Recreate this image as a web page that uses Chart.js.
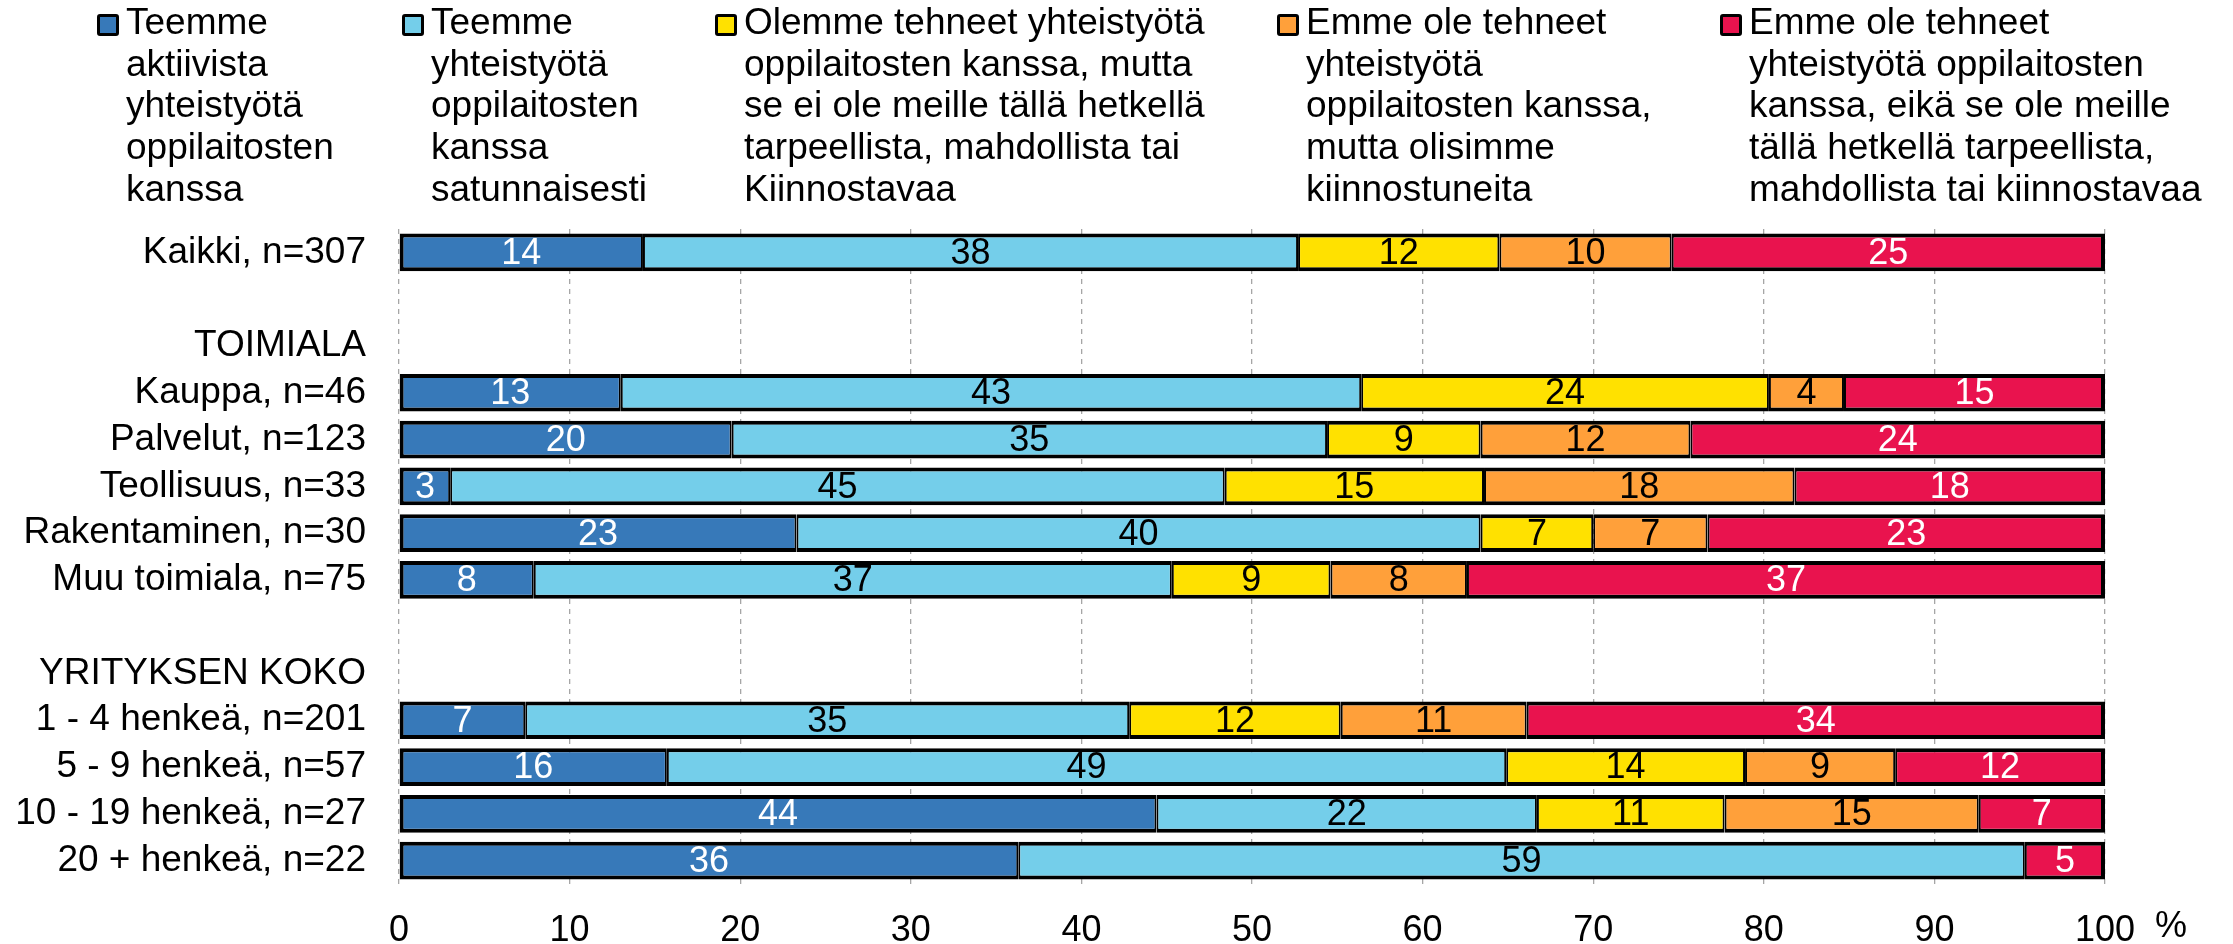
<!DOCTYPE html>
<html>
<head>
<meta charset="utf-8">
<script src="https://cdn.jsdelivr.net/npm/chart.js@4/dist/chart.umd.min.js"></script>
<style>
html,body{margin:0;padding:0;background:#fff;}
#wrap{position:relative;width:2233px;height:944px;overflow:hidden;background:#fff;}
#c{position:absolute;left:0;top:0;width:2233px;height:944px;}
.lg{position:absolute;top:1px;font-family:"Liberation Sans",Arial,sans-serif;font-size:37px;line-height:41.7px;color:#000;white-space:nowrap;}
.mk{position:absolute;top:14px;width:16px;height:16px;border:3px solid #000;border-radius:3px;}
</style>
</head>
<body>
<div id="wrap">
  <canvas id="c" width="2233" height="944"></canvas>
  <div id="legend"></div>
</div>
<script>
// ---- data ----
const categories = ['Kaikki, n=307', '', 'TOIMIALA', 'Kauppa, n=46', 'Palvelut, n=123', 'Teollisuus, n=33',
  'Rakentaminen, n=30', 'Muu toimiala, n=75', '', 'YRITYKSEN KOKO', '1 - 4 henkeä, n=201',
  '5 - 9 henkeä, n=57', '10 - 19 henkeä, n=27', '20 + henkeä, n=22'];

const seriesNames = [
  'Teemme\naktiivista\nyhteistyötä\noppilaitosten\nkanssa',
  'Teemme\nyhteistyötä\noppilaitosten\nkanssa\nsatunnaisesti',
  'Olemme tehneet yhteistyötä\noppilaitosten kanssa, mutta\nse ei ole meille tällä hetkellä\ntarpeellista, mahdollista tai\nKiinnostavaa',
  'Emme ole tehneet\nyhteistyötä\noppilaitosten kanssa,\nmutta olisimme\nkiinnostuneita',
  'Emme ole tehneet\nyhteistyötä oppilaitosten\nkanssa, eikä se ole meille\ntällä hetkellä tarpeellista,\nmahdollista tai kiinnostavaa'
];

const aktiivinen   = [14.3, null, null, 13.0, 19.5,  3.0, 23.3,  7.9, null, null,  7.4, 15.7, 44.4, 36.3];
const satunnainen  = [38.4, null, null, 43.4, 34.9, 45.4, 40.1, 37.4, null, null, 35.4, 49.2, 22.3, 59.0];
const eiTarpeen    = [11.8, null, null, 23.9,  9.0, 15.2,  6.6,  9.3, null, null, 12.4, 14.0, 11.0, null];
const kiinnostunut = [10.1, null, null,  4.4, 12.3, 18.2,  6.7,  8.0, null, null, 10.9,  8.8, 14.9, null];
const eiKiinnosta  = [25.4, null, null, 15.3, 24.3, 18.2, 23.3, 37.4, null, null, 33.9, 12.3,  7.4,  4.7];

const xTicks = [0, 10, 20, 30, 40, 50, 60, 70, 80, 90, 100];
const unitLabel = '%';

// ---- styles ----
const colors = ['#3779B9', '#74CEEA', '#FFE100', '#FFA03A', '#E9134E'];
const labelColors = ['#ffffff', '#000000', '#000000', '#000000', '#ffffff'];
const allSeries = [aktiivinen, satunnainen, eiTarpeen, kiinnostunut, eiKiinnosta];
const FONT = '"Liberation Sans", Arial, sans-serif';

// ---- HTML legend ----
const legendLeft = [97, 402, 715, 1277, 1720];
const legend = document.getElementById('legend');
seriesNames.forEach((name, i) => {
  const mk = document.createElement('div');
  mk.className = 'mk';
  mk.style.left = legendLeft[i] + 'px';
  mk.style.background = colors[i];
  legend.appendChild(mk);
  const t = document.createElement('div');
  t.className = 'lg';
  t.style.left = (legendLeft[i] + 29) + 'px';
  t.innerHTML = name.split('\n').join('<br>');
  legend.appendChild(t);
});

function borderFor(ctx) {
  const i = ctx.dataIndex, d = ctx.datasetIndex;
  let first = -1, last = -1;
  allSeries.forEach((s, k) => { if (s[i] !== null && s[i] !== undefined) { if (first < 0) first = k; last = k; } });
  return { top: 4, bottom: 4, left: d === first ? 4 : 2, right: d === last ? 4 : 2 };
}

const valueLabels = {
  id: 'valueLabels',
  afterDatasetsDraw(chart) {
    const ctx = chart.ctx;
    ctx.save();
    ctx.font = '36px ' + FONT;
    ctx.textAlign = 'center';
    ctx.textBaseline = 'middle';
    chart.data.datasets.forEach((ds, d) => {
      const meta = chart.getDatasetMeta(d);
      meta.data.forEach((el, i) => {
        const v = ds.data[i];
        if (v === null || v === undefined) return;
        const p = el.getProps(['x', 'y', 'base'], true);
        ctx.fillStyle = labelColors[d];
        ctx.fillText(String(Math.round(v)), (p.x + p.base) / 2, p.y + 1.5);
      });
    });
    ctx.restore();
  }
};

const unitPlugin = {
  id: 'unitPlugin',
  afterDraw(chart) {
    const ctx = chart.ctx;
    ctx.save();
    ctx.font = '36px ' + FONT;
    ctx.fillStyle = '#000';
    ctx.textAlign = 'left';
    ctx.textBaseline = 'alphabetic';
    ctx.fillText(unitLabel, 2155, 937);
    ctx.restore();
  }
};

new Chart(document.getElementById('c'), {
  type: 'bar',
  data: {
    labels: categories,
    datasets: allSeries.map((s, k) => ({
      label: seriesNames[k].replace(/\n/g, ' '),
      data: s,
      backgroundColor: colors[k],
      borderColor: '#000000',
      borderWidth: borderFor,
      borderSkipped: false,
      barPercentage: 0.806,
      categoryPercentage: 1.0
    }))
  },
  options: {
    indexAxis: 'y',
    responsive: false,
    animation: false,
    devicePixelRatio: 1,
    layout: { padding: { top: 229, right: 128, left: 0, bottom: 0 } },
    plugins: { legend: { display: false }, tooltip: { enabled: false } },
    scales: {
      x: {
        stacked: true,
        min: 0, max: 100,
        afterBuildTicks(scale) { scale.ticks = xTicks.map(v => ({ value: v })); },
        afterFit(scale) { scale.height = 60; },
        ticks: { font: { family: FONT, size: 36 }, color: '#000', padding: 25, maxRotation: 0 },
        grid: { color: '#A6A6A6', lineWidth: 1.3, drawTicks: false },
        border: { display: false, dash: [5, 5] }
      },
      y: {
        stacked: true,
        afterFit(scale) { scale.width = 399; },
        ticks: { font: { family: FONT, size: 37 }, color: '#000', padding: 33, autoSkip: false },
        grid: { display: false, drawTicks: false },
        border: { display: false }
      }
    }
  },
  plugins: [valueLabels, unitPlugin]
});
</script>
</body>
</html>
